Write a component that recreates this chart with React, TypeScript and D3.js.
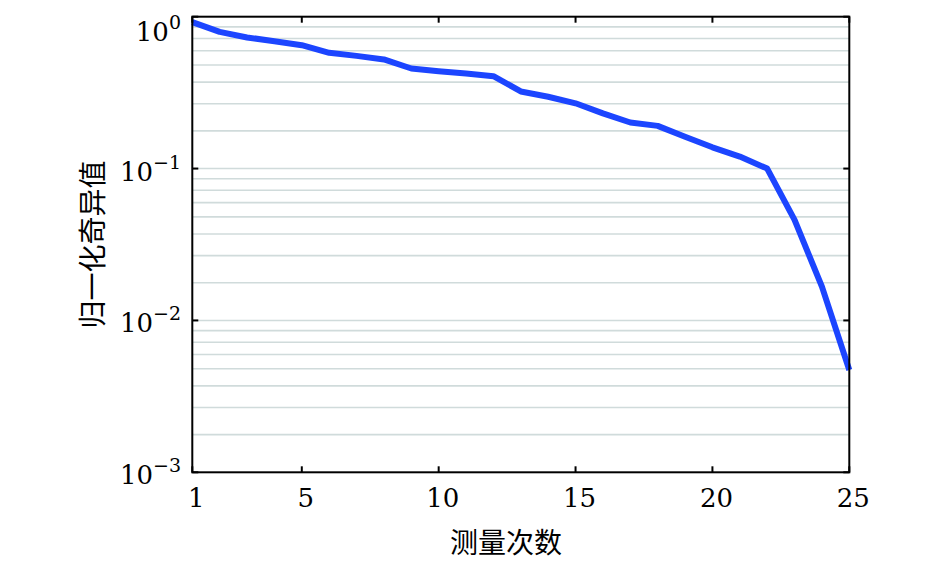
import React, { useEffect, useRef } from "react";
import * as d3 from "d3";

const counts = d3.range(1, 26);
const singularValues = [
  0.92, 0.794, 0.73, 0.69, 0.649, 0.578, 0.552, 0.523, 0.456, 0.438, 0.423,
  0.406, 0.322, 0.297, 0.269, 0.231, 0.201, 0.191, 0.162, 0.138, 0.12, 0.1,
  0.0459, 0.0167, 0.00472,
];

const xTicks = [1, 5, 10, 15, 20, 25];
const yDecades = [-3, -2, -1, 0];
// minor grid multipliers inside each decade, as they appear in the picture
const gridMultipliers = [1.77, 2.67, 3.71, 4.81, 5.97, 7.19, 8.57];

const xTitle = "测量次数";
const yTitle = "归一化奇异值";

function App() {
  const ref = useRef(null);

  useEffect(() => {
    const width = 945;
    const height = 567;
    const left = 192.3;
    const right = 849.3;
    const top = 16.7;
    const bottom = 472.3;
    const serif = "DejaVu Serif";
    const cjk = "Noto Sans CJK SC";

    d3.select(ref.current).select("svg").remove();

    const svg = d3
      .select(ref.current)
      .append("svg")
      .attr("width", width)
      .attr("height", height)
      .style("position", "absolute")
      .style("left", 0)
      .style("top", 0)
      .style("background", "#fff");

    const x = d3.scaleLinear().domain([1, 25]).range([left, right]);
    const y = d3.scaleLog().domain([1e-3, 1]).range([bottom, top]);

    // grid lines
    const gridValues = [];
    yDecades.slice(0, 3).forEach((d) => {
      gridValues.push(Math.pow(10, d + 1));
      gridMultipliers.forEach((m) => gridValues.push(m * Math.pow(10, d)));
    });

    svg
      .append("g")
      .selectAll("line")
      .data(gridValues.filter((v) => y(v) > top + 2 && y(v) < bottom - 2))
      .enter()
      .append("line")
      .attr("x1", left)
      .attr("x2", right)
      .attr("y1", (d) => y(d))
      .attr("y2", (d) => y(d))
      .attr("stroke", "#d0dbdb")
      .attr("stroke-width", 1.6);

    // data line
    const line = d3
      .line()
      .x((d, i) => x(counts[i]))
      .y((d) => y(d));

    svg
      .append("path")
      .datum(singularValues)
      .attr("d", line)
      .attr("fill", "none")
      .attr("stroke", "#1c45ff")
      .attr("stroke-width", 6)
      .attr("stroke-linejoin", "round");

    // frame
    svg
      .append("rect")
      .attr("x", left)
      .attr("y", top)
      .attr("width", right - left)
      .attr("height", bottom - top)
      .attr("fill", "none")
      .attr("stroke", "#000")
      .attr("stroke-width", 2);

    // x ticks (bottom and top, inward)
    xTicks.forEach((t) => {
      svg
        .append("line")
        .attr("x1", x(t))
        .attr("x2", x(t))
        .attr("y1", bottom)
        .attr("y2", bottom - 6)
        .attr("stroke", "#000")
        .attr("stroke-width", 2);
      svg
        .append("line")
        .attr("x1", x(t))
        .attr("x2", x(t))
        .attr("y1", top)
        .attr("y2", top + 6)
        .attr("stroke", "#000")
        .attr("stroke-width", 2);
      svg
        .append("text")
        .attr("x", x(t) + 4)
        .attr("y", 498)
        .attr("text-anchor", "middle")
        .attr("dominant-baseline", "central")
        .attr("font-family", serif)
        .attr("font-size", 26)
        .text(t);
    });

    // y ticks (left and right, inward) with 10^n labels
    yDecades.forEach((d) => {
      const yy = y(Math.pow(10, d));
      [
        [left, left + 6],
        [right, right - 6],
      ].forEach(([a, b]) => {
        svg
          .append("line")
          .attr("x1", a)
          .attr("x2", b)
          .attr("y1", yy)
          .attr("y2", yy)
          .attr("stroke", "#000")
          .attr("stroke-width", 2);
      });
      const ly = Math.max(yy + 2, top + 14);
      const label = svg
        .append("text")
        .attr("x", 181)
        .attr("y", ly + 10)
        .attr("text-anchor", "end")
        .attr("font-family", serif)
        .attr("font-size", 26);
      label.append("tspan").text("10");
      label
        .append("tspan")
        .attr("dy", -12)
        .attr("font-size", 19)
        .text(d < 0 ? "\u2212" + Math.abs(d) : String(d));
    });

    // axis titles
    svg
      .append("text")
      .attr("x", 506)
      .attr("y", 541)
      .attr("text-anchor", "middle")
      .attr("dominant-baseline", "central")
      .attr("font-family", cjk)
      .attr("font-size", 28)
      .text(xTitle);

    svg
      .append("text")
      .attr("transform", `translate(91, ${(top + bottom) / 2}) rotate(-90)`)
      .attr("text-anchor", "middle")
      .attr("dominant-baseline", "central")
      .attr("font-family", cjk)
      .attr("font-size", 28)
      .text(yTitle);
  }, []);

  return <div ref={ref}></div>;
}

export default App;
